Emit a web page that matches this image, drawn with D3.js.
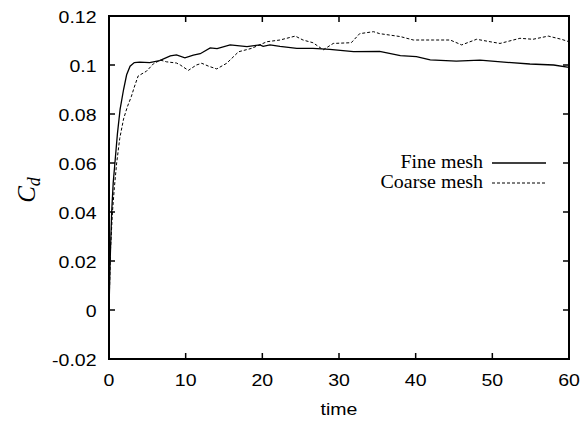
<!DOCTYPE html>
<html>
<head>
<meta charset="utf-8">
<script src="https://cdn.jsdelivr.net/npm/d3@7"></script>
<style>
  html, body { margin: 0; padding: 0; background: #fff; }
  svg { display: block; }
</style>
</head>
<body>
<svg id="chart" width="580" height="422"></svg>
<script>
// ---- data ----
const xTicks = [0, 10, 20, 30, 40, 50, 60];
const yTicks = [-0.02, 0, 0.02, 0.04, 0.06, 0.08, 0.1, 0.12];
const yTickLabels = ["-0.02", "0", "0.02", "0.04", "0.06", "0.08", "0.1", "0.12"];
const seriesNames = ["Fine mesh", "Coarse mesh"];
const fineT  = [0,0.15,0.35,0.55,0.8,1.1,1.45,1.9,2.3,2.75,3.3,4,5.3,6.6,8,8.8,9.9,11,11.9,13.2,14.1,15.8,18,19.7,20.1,21,22.3,24.5,26.6,28.8,31.9,35.3,38,40.1,41.9,45.3,48.4,51.9,54.9,58,60];
const fineCd = [0.0,0.02,0.04,0.052,0.061,0.072,0.082,0.09,0.096,0.0995,0.101,0.1012,0.101,0.1018,0.1037,0.1041,0.1029,0.104,0.1046,0.107,0.1067,0.1082,0.1075,0.1082,0.1076,0.1082,0.1076,0.1068,0.1068,0.1064,0.1055,0.1056,0.1038,0.1034,0.1021,0.1016,0.102,0.1011,0.1004,0.1,0.099];
const coarseT  = [0,0.2,0.45,0.7,1,1.4,1.9,2.4,2.9,3.3,3.8,4.9,5.8,6.7,7.5,8.8,9.3,10.35,11.4,12.1,13,14.05,15.35,16.9,18.6,20.6,22.3,24.3,25.3,26.6,27.95,29.25,31.6,32.7,34.5,35.3,38,39.7,42.3,44.5,46,47.95,49.7,51,53.6,55.3,57.3,59,60];
const coarseCd = [0.0,0.025,0.04,0.05,0.06,0.07,0.078,0.083,0.087,0.091,0.0955,0.0975,0.1005,0.102,0.1013,0.1008,0.1,0.0978,0.1,0.1007,0.0995,0.0984,0.1007,0.1054,0.1068,0.1095,0.1102,0.1118,0.1102,0.1091,0.1062,0.1088,0.1091,0.1128,0.1136,0.1128,0.1116,0.1102,0.1102,0.1102,0.1082,0.1105,0.1095,0.1088,0.1109,0.1105,0.1118,0.1105,0.1095];

// ---- layout ----
const svg = d3.select("#chart");
const L = 109, R = 569, T = 16, B = 359;
const x = d3.scaleLinear().domain([0, 60]).range([L, R]);
const y = d3.scaleLinear().domain([-0.02, 0.12]).range([B, T]);

const sans = "'Liberation Sans', Arial, Helvetica, sans-serif";
const serif = "'Liberation Serif', 'Times New Roman', serif";
const SX = 1.22; // horizontal stretch of tick text

function stretchedText(g, px, py, str, opts) {
  const t = g.append("text")
    .attr("transform", `translate(${px},${py}) scale(${opts.sx},1)`)
    .attr("text-anchor", opts.anchor)
    .attr("dominant-baseline", "central")
    .style("font-family", opts.family)
    .style("font-size", opts.size + "px")
    .attr("fill", "#000")
    .text(str);
  return t;
}

// ticks (inward, all four sides)
const tickLen = 6;
const g = svg.append("g");
xTicks.forEach(v => {
  if (v > 0 && v < 60) {
    g.append("line").attr("x1", x(v)).attr("x2", x(v)).attr("y1", B).attr("y2", B - tickLen)
      .attr("stroke", "#000").attr("stroke-width", 1.5);
    g.append("line").attr("x1", x(v)).attr("x2", x(v)).attr("y1", T).attr("y2", T + tickLen)
      .attr("stroke", "#000").attr("stroke-width", 1.5);
  }
  stretchedText(g, x(v), 381, String(v), {sx: SX, anchor: "middle", family: sans, size: 16});
});
yTicks.forEach((v, i) => {
  if (i > 0 && i < yTicks.length - 1) {
    g.append("line").attr("x1", L).attr("x2", L + tickLen).attr("y1", y(v)).attr("y2", y(v))
      .attr("stroke", "#000").attr("stroke-width", 1.5);
    g.append("line").attr("x1", R).attr("x2", R - tickLen).attr("y1", y(v)).attr("y2", y(v))
      .attr("stroke", "#000").attr("stroke-width", 1.5);
  }
  stretchedText(g, 96.5, y(v) + 1.5, yTickLabels[i], {sx: SX, anchor: "end", family: sans, size: 16});
});

// curves
const line = d3.line().x(d => x(d[0])).y(d => y(d[1]));
const fine = fineT.map((t, i) => [t, fineCd[i]]);
const coarse = coarseT.map((t, i) => [t, coarseCd[i]]);
svg.append("path").datum(coarse).attr("d", line).attr("fill", "none")
  .attr("stroke", "#000").attr("stroke-width", 1).attr("stroke-dasharray", "3,2");
svg.append("path").datum(fine).attr("d", line).attr("fill", "none")
  .attr("stroke", "#000").attr("stroke-width", 1.3);

// frame
svg.append("rect").attr("x", L).attr("y", T).attr("width", R - L).attr("height", B - T)
  .attr("fill", "none").attr("stroke", "#000").attr("stroke-width", 2);

// legend
const leg = svg.append("g");
const legRows = [{name: seriesNames[0], dash: null, w: 1.3, yy: 163},
                 {name: seriesNames[1], dash: "3,2", w: 1, yy: 183}];
legRows.forEach(r => {
  stretchedText(leg, 483, r.yy - 1, r.name, {sx: 1.05, anchor: "end", family: serif, size: 19});
  const l = leg.append("line").attr("x1", 492).attr("x2", 546).attr("y1", r.yy).attr("y2", r.yy)
    .attr("stroke", "#000").attr("stroke-width", r.w);
  if (r.dash) l.attr("stroke-dasharray", r.dash);
});

// axis titles
stretchedText(svg, 339, 410, "time", {sx: SX, anchor: "middle", family: sans, size: 16});
const yl = svg.append("text")
  .attr("transform", "translate(35,190) rotate(-90)")
  .attr("text-anchor", "middle")
  .style("font-family", serif)
  .style("font-style", "italic")
  .style("font-size", "25px")
  .attr("fill", "#000");
yl.append("tspan").text("C");
yl.append("tspan").attr("dy", 5).style("font-size", "18px").text("d");
</script>
</body>
</html>
